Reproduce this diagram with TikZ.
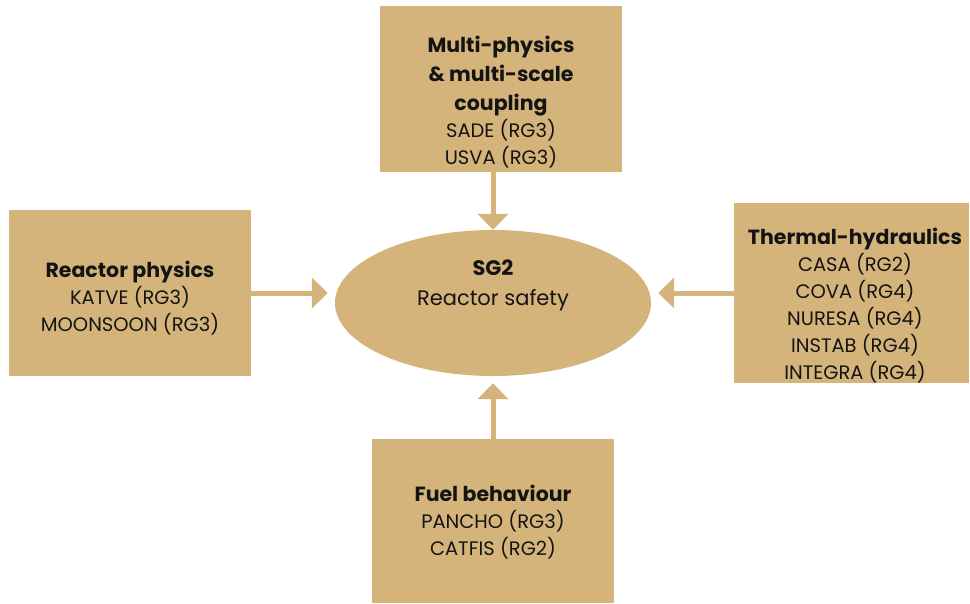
\documentclass[tikz,border=0pt]{standalone}
\usepackage{fontspec}
\setmainfont{Poppins}
\usetikzlibrary{arrows.meta,shapes.geometric}
\definecolor{tan}{RGB}{212,180,122}
\definecolor{ink}{RGB}{20,20,20}
\newcommand{\hdl}[1]{{\bfseries\fontsize{20.5}{27}\selectfont #1}}
\tikzset{
  box/.style={fill=tan,draw=none,inner sep=0pt,minimum width=#1},
  txt/.style={text=ink,align=center,inner sep=0pt,font=\fontsize{19.5}{27}\selectfont}
}
\tikzset{arr/.style={draw=tan,line width=5pt,-{Triangle[width=30pt,length=16pt]}}}
\begin{document}
\begin{tikzpicture}[x=1pt,y=-1pt]
\useasboundingbox (0,0) rectangle (970,603);
% boxes
\node[box=242pt,minimum height=166pt] (top) at (501,89) {};
\node[box=242pt,minimum height=166pt] (left) at (130,293) {};
\node[box=235pt,minimum height=180pt] (right) at (851.5,293) {};
\node[box=242pt,minimum height=164pt] (bot) at (493,521) {};
\node[ellipse,fill=tan,inner sep=0pt,minimum width=316pt,minimum height=146pt] (ell) at (493,303) {};
% texts
\node[txt] (toptxt) at (501,102) {\hdl{Multi-physics}\\[2pt]\hdl{\& multi-scale}\\[2pt]\hdl{coupling}\\SADE (RG3)\\USVA (RG3)};
\node[txt] (lefttxt) at (130,298) {\hdl{Reactor physics}\\KATVE (RG3)\\MOONSOON (RG3)};
\node[txt] (righttxt) at (855,306) {\hdl{Thermal-hydraulics}\\CASA (RG2)\\COVA (RG4)\\NURESA (RG4)\\INSTAB (RG4)\\INTEGRA (RG4)};
\node[txt] (bottxt) at (493,522) {\hdl{Fuel behaviour}\\PANCHO (RG3)\\CATFIS (RG2)};
\node[txt,font=\fontsize{21}{30}\selectfont] (elltxt) at (493,285) {{\bfseries\fontsize{21}{30}\selectfont SG2}\\Reactor safety};
% arrows
\draw[arr] (top.south -| ell.north) -- (ell.north);
\draw[arr,shorten >=7pt] (bot.north -| ell.south) -- (ell.south);
\draw[arr,shorten >=7pt] (left.east) -- (left.east -| ell.west);
\draw[arr,shorten >=7pt] (right.west) -- (right.west -| ell.east);
\end{tikzpicture}
\end{document}
